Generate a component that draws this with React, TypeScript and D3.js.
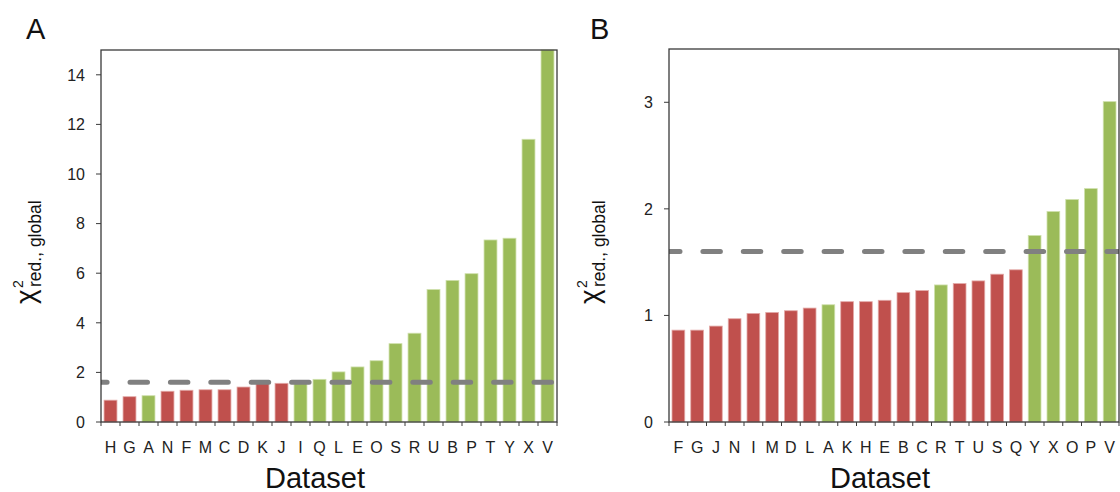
import React from "react";
import * as d3 from "d3";

const catsA = ["H","G","A","N","F","M","C","D","K","J","I","Q","L","E","O","S","R","U","B","P","T","Y","X","V"];
const valsA = [0.88,1.02,1.06,1.24,1.28,1.30,1.30,1.41,1.55,1.56,1.62,1.72,2.02,2.22,2.47,3.16,3.58,5.34,5.71,5.98,7.34,7.41,11.40,15.3];
const greenA = ["A","I","Q","L","E","O","S","R","U","B","P","T","Y","X","V"];
const ticksA = [0,2,4,6,8,10,12,14];

const catsB = ["F","G","J","N","I","M","D","L","A","K","H","E","B","C","R","T","U","S","Q","Y","X","O","P","V"];
const valsB = [0.862,0.862,0.90,0.969,1.019,1.028,1.044,1.069,1.10,1.129,1.129,1.142,1.214,1.233,1.286,1.299,1.324,1.387,1.428,1.75,1.975,2.088,2.19,3.006];
const greenB = ["A","R","Y","X","O","P","V"];
const ticksB = [0,1,2,3];

const threshold = 1.6;

const RED = "#C0504D";
const GREEN = "#9BBB59";
const FONT = "'Liberation Sans', Arial, Helvetica, sans-serif";

type PanelProps = {
  id: string;
  left: number; right: number; top: number; bottom: number;
  cats: string[]; vals: number[]; greens: string[]; ticks: number[]; yMax: number;
  letter: string; letterX: number;
  labelX: number; dashOffset: number; titleX: number;
};

function Panel(p: PanelProps) {
  const x = d3.scaleBand<string>().domain(p.cats).range([p.left, p.right]).paddingInner(0.32).paddingOuter(0.16);
  const y = d3.scaleLinear().domain([0, p.yMax]).range([p.bottom, p.top]);
  const boundaries = d3.range(p.cats.length + 1).map(i => p.left + i * (p.right - p.left) / p.cats.length);
  const ty = y(threshold);
  return (
    <g fontFamily={FONT}>
      <defs>
        <clipPath id={"clip" + p.id}>
          <rect x={p.left} y={p.top} width={p.right - p.left} height={p.bottom - p.top} />
        </clipPath>
      </defs>
      <text x={p.letterX} y={39} fontSize={29} fill="#111">{p.letter}</text>
      {p.cats.map((c, i) => {
        const v = Math.min(p.vals[i], p.yMax);
        return (
          <rect key={c} x={x(c)} y={y(v)} width={x.bandwidth()} height={y(0) - y(v)}
            fill={p.greens.includes(c) ? GREEN : RED}
            stroke={p.greens.includes(c) ? "#cfe0ac" : "#e3aaa8"} strokeWidth={0.8} />
        );
      })}
      <g clipPath={`url(#clip${p.id})`}>
        <line x1={p.left} x2={p.right} y1={ty} y2={ty} stroke="#808080" strokeWidth={5}
          strokeDasharray="17.5 22.9" strokeDashoffset={p.dashOffset} strokeLinecap="round" />
      </g>
      <rect x={p.left} y={p.top} width={p.right - p.left} height={p.bottom - p.top}
        fill="none" stroke="#3a3a3a" strokeWidth={1.3} />
      {p.ticks.map(t => (
        <g key={t}>
          <line x1={p.left - 5} x2={p.left} y1={y(t)} y2={y(t)} stroke="#3a3a3a" strokeWidth={1} />
          <text x={p.left - 16} y={y(t)} dy="0.36em" textAnchor="end" fontSize={16} fill="#222">{t}</text>
        </g>
      ))}
      {boundaries.map((bx, i) => (
        <line key={i} x1={bx} x2={bx} y1={p.bottom} y2={p.bottom + 4} stroke="#3a3a3a" strokeWidth={1} />
      ))}
      {p.cats.map(c => (
        <text key={c} x={(x(c) as number) + x.bandwidth() / 2} y={453} textAnchor="middle" fontSize={16} fill="#222">{c}</text>
      ))}
      <text x={p.titleX} y={488} textAnchor="middle" fontSize={29} fill="#111">Dataset</text>
      <g transform={`translate(${p.labelX},304) rotate(-90)`} fill="#111">
        <text x={0} y={0} fontSize={28}>χ</text>
        <text x={16} y={-12} fontSize={14}>2</text>
        <text x={17} y={6} fontSize={17.5}>red., global</text>
      </g>
    </g>
  );
}

export default function App() {
  return (
    <svg width={1120} height={492} style={{ position: "absolute", left: 0, top: 0, background: "#fff" }}>
      <Panel id="A" left={101} right={557} top={50} bottom={422}
        cats={catsA} vals={valsA} greens={greenA} ticks={ticksA} yMax={15}
        letter="A" letterX={26} labelX={35} dashOffset={11.4} titleX={315} />
      <Panel id="B" left={669} right={1119} top={49} bottom={422}
        cats={catsB} vals={valsB} greens={greenB} ticks={ticksB} yMax={3.5}
        letter="B" letterX={590} labelX={599} dashOffset={6.5} titleX={880} />
    </svg>
  );
}
